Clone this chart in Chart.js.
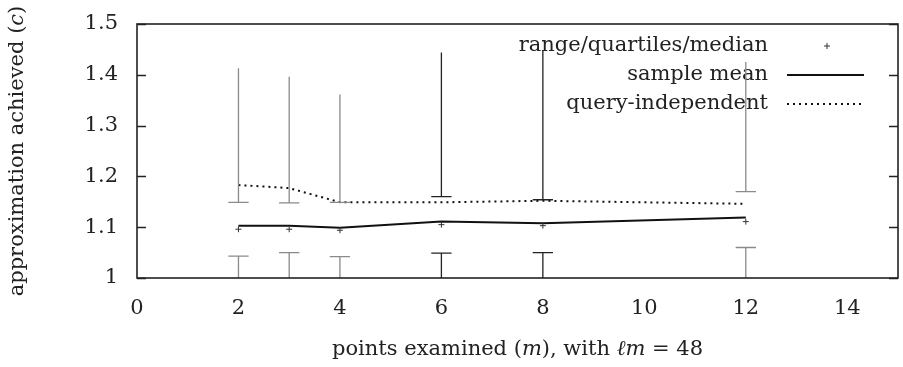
<!DOCTYPE html>
<html>
<head>
<meta charset="utf-8">
<script src="https://cdn.jsdelivr.net/npm/chart.js@4.4.1/dist/chart.umd.min.js"></script>
<style>
  html, body { margin: 0; padding: 0; background: #fff; }
  #wrap { width: 903px; height: 367px; }
</style>
</head>
<body>
<div id="wrap"><canvas id="chart"></canvas></div>
<script>
// points examined (m)
const xs = [2, 3, 4, 6, 8, 12];
// approximation achieved: range, quartiles, median per m
const rangeMin = [1.0, 1.0, 1.0, 1.0, 1.0, 1.0];
const lowerQuartile = [1.043, 1.050, 1.042, 1.049, 1.050, 1.060];
const medians = [1.096, 1.096, 1.094, 1.105, 1.103, 1.111];
const upperQuartile = [1.149, 1.148, 1.149, 1.160, 1.154, 1.170];
const rangeMax = [1.413, 1.396, 1.361, 1.444, 1.449, 1.425];
const sampleMean = [1.103, 1.103, 1.099, 1.111, 1.108, 1.119];
const queryIndependent = [1.183, 1.177, 1.149, 1.149, 1.152, 1.146];

const xTicks = [0, 2, 4, 6, 8, 10, 12, 14];
const yTicks = [1, 1.1, 1.2, 1.3, 1.4, 1.5];

const FONT = '"DejaVu Serif", "Liberation Serif", serif';
const FSIZE = 21;
const INK = '#222';
const whiskerColor = ['#8a8a8a', '#8a8a8a', '#8a8a8a', '#222', '#222', '#8a8a8a'];
const capHalf = 0.2; // half width of the quartile bars, in m units

// one polyline per candlestick: min->LQ, LQ bar, UQ bar, UQ->max
function whiskerPoints(i) {
  const x = xs[i];
  const gap = { x: x, y: null };
  return [
    { x: x, y: rangeMin[i] }, { x: x, y: lowerQuartile[i] }, gap,
    { x: x - capHalf, y: lowerQuartile[i] }, { x: x + capHalf, y: lowerQuartile[i] }, gap,
    { x: x - capHalf, y: upperQuartile[i] }, { x: x + capHalf, y: upperQuartile[i] }, gap,
    { x: x, y: upperQuartile[i] }, { x: x, y: rangeMax[i] }
  ];
}

const whiskerSets = xs.map((x, i) => ({
  type: 'line',
  data: whiskerPoints(i),
  borderColor: whiskerColor[i],
  borderWidth: 1.3,
  pointRadius: 0,
  spanGaps: false,
  tension: 0
}));

// frame, inward y ticks, legend and axis titles (gnuplot style)
const decor = {
  id: 'decor',
  beforeDatasetsDraw(chart) {
    const ctx = chart.ctx;
    const a = chart.chartArea;
    ctx.save();
    ctx.font = FSIZE + 'px ' + FONT;
    ctx.fillStyle = INK;
    ctx.textAlign = 'right';
    ctx.textBaseline = 'middle';
    const labels = ['range/quartiles/median', 'sample mean', 'query-independent'];
    const rows = [46, 75, 104];
    const textRight = 768, s0 = 787, s1 = 864;
    labels.forEach((t, k) => ctx.fillText(t, textRight, rows[k]));
    // '+' sample
    ctx.strokeStyle = '#333';
    ctx.lineWidth = 1;
    ctx.beginPath();
    ctx.moveTo(824, rows[0]); ctx.lineTo(830, rows[0]);
    ctx.moveTo(827, rows[0] - 3); ctx.lineTo(827, rows[0] + 3);
    ctx.stroke();
    // solid sample
    ctx.strokeStyle = '#111';
    ctx.lineWidth = 2;
    ctx.beginPath(); ctx.moveTo(s0, rows[1]); ctx.lineTo(s1, rows[1]); ctx.stroke();
    // dotted sample
    ctx.setLineDash([2, 4]);
    ctx.beginPath(); ctx.moveTo(s0, rows[2]); ctx.lineTo(s1, rows[2]); ctx.stroke();
    ctx.setLineDash([]);

    // inward tick marks on both vertical sides
    const ys = chart.scales.y;
    ctx.strokeStyle = INK;
    ctx.lineWidth = 1.3;
    ctx.beginPath();
    yTicks.forEach(v => {
      const py = Math.round(ys.getPixelForValue(v)) + 0.5;
      ctx.moveTo(a.left, py); ctx.lineTo(a.left + 9, py);
      ctx.moveTo(a.right, py); ctx.lineTo(a.right - 9, py);
    });
    ctx.stroke();
    ctx.restore();
  },
  afterDraw(chart) {
    const ctx = chart.ctx;
    const a = chart.chartArea;
    ctx.save();
    ctx.strokeStyle = INK;
    ctx.lineWidth = 1.6;
    ctx.strokeRect(a.left, a.top, a.right - a.left, a.bottom - a.top);

    const roman = FSIZE + 'px ' + FONT;
    const ital = 'italic ' + FSIZE + 'px ' + FONT;
    function drawRich(parts, cx, cy) {
      let w = 0;
      parts.forEach(p => { ctx.font = p[1] ? ital : roman; w += ctx.measureText(p[0]).width; });
      let x = cx - w / 2;
      ctx.textAlign = 'left';
      ctx.textBaseline = 'middle';
      ctx.fillStyle = INK;
      parts.forEach(p => {
        ctx.font = p[1] ? ital : roman;
        ctx.fillText(p[0], x, cy);
        x += ctx.measureText(p[0]).width;
      });
    }
    drawRich([['points examined (', 0], ['m', 1], ['), with ', 0], ['\u2113m', 1], [' = 48', 0]],
      (a.left + a.right) / 2, 350);
    ctx.translate(18, (a.top + a.bottom) / 2);
    ctx.rotate(-Math.PI / 2);
    drawRich([['approximation achieved (', 0], ['c', 1], [')', 0]], 0, 0);
    ctx.restore();
  }
};

new Chart(document.getElementById('chart'), {
  type: 'line',
  data: {
    datasets: [
      ...whiskerSets,
      {
        label: 'range/quartiles/median',
        data: xs.map((x, i) => ({ x: x, y: medians[i] })),
        showLine: false,
        pointStyle: 'cross',
        pointRadius: 3,
        borderWidth: 1,
        borderColor: '#333'
      },
      {
        label: 'sample mean',
        data: xs.map((x, i) => ({ x: x, y: sampleMean[i] })),
        borderColor: '#111',
        borderWidth: 2,
        pointRadius: 0,
        tension: 0
      },
      {
        label: 'query-independent',
        data: xs.map((x, i) => ({ x: x, y: queryIndependent[i] })),
        borderColor: '#111',
        borderWidth: 2,
        borderDash: [2, 4],
        pointRadius: 0,
        tension: 0
      }
    ]
  },
  options: {
    responsive: true,
    maintainAspectRatio: false,
    animation: false,
    layout: { padding: { top: 24, right: 3, left: 0, bottom: 0 } },
    plugins: { legend: { display: false }, tooltip: { enabled: false } },
    scales: {
      x: {
        type: 'linear',
        min: 0,
        max: 15,
        afterBuildTicks: s => { s.ticks = xTicks.map(v => ({ value: v })); },
        afterFit: s => { s.height = 89; s.paddingLeft = 0; s.paddingRight = 0; },
        grid: { display: false, drawTicks: false },
        border: { display: false },
        ticks: { padding: 18, color: INK, font: { family: FONT, size: FSIZE }, maxRotation: 0 }
      },
      y: {
        min: 1,
        max: 1.5,
        afterBuildTicks: s => { s.ticks = yTicks.map(v => ({ value: v })); },
        afterFit: s => { s.width = 137; s.paddingTop = 0; s.paddingBottom = 0; },
        grid: { display: false, drawTicks: false },
        border: { display: false },
        ticks: {
          padding: 19,
          color: INK,
          font: { family: FONT, size: FSIZE },
          callback: v => String(Number(v.toFixed(1)))
        }
      }
    }
  },
  plugins: [decor]
});
</script>
</body>
</html>
